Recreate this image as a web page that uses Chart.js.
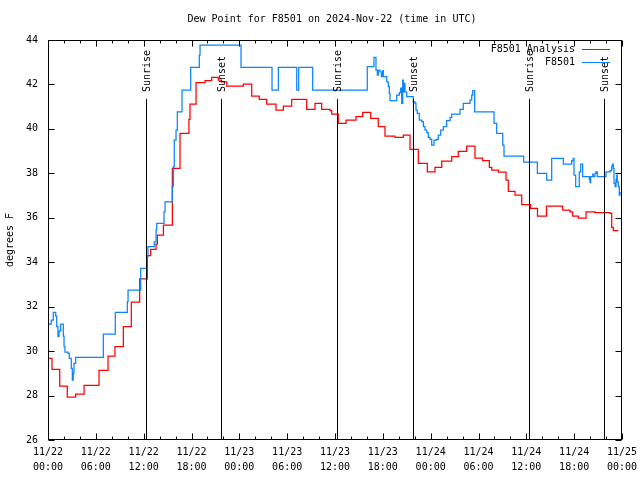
<!DOCTYPE html>
<html>
<head>
<meta charset="utf-8">
<title>Dew Point for F8501</title>
<script src="https://cdn.jsdelivr.net/npm/chart.js@4.4.1/dist/chart.umd.min.js"></script>
<style>
  html, body { margin: 0; padding: 0; background: #fff; }
</style>
</head>
<body>
<canvas id="dewpoint" width="640" height="480"></canvas>
<script>
const FONT = 'DejaVu Sans Mono'
const TITLE = 'Dew Point for F8501 on 2024-Nov-22 (time in UTC)'

// x = hours since 11/22 00:00 UTC
const tickLabels = [
  ['11/22', '00:00'], ['11/22', '06:00'], ['11/22', '12:00'], ['11/22', '18:00'],
  ['11/23', '00:00'], ['11/23', '06:00'], ['11/23', '12:00'], ['11/23', '18:00'],
  ['11/24', '00:00'], ['11/24', '06:00'], ['11/24', '12:00'], ['11/24', '18:00'],
  ['11/25', '00:00']
]

const analysisHours = [0, 0.50, 1.47, 2.42, 3.47, 4.52, 6.40, 7.53, 8.40, 9.45,
  10.45, 11.50, 12.46, 12.88, 13.55, 13.72, 14.48, 15.60, 16.56, 17.68,
  17.81, 18.57, 19.70, 20.53, 21.36, 21.78, 22.42, 24.50, 25.55, 26.50,
  27.43, 28.60, 29.52, 30.57, 32.45, 33.49, 34.33, 35.37, 35.59, 36.41,
  37.38, 38.63, 39.47, 40.48, 41.43, 42.27, 43.53, 44.57, 45.41, 46.45,
  47.58, 48.54, 49.39, 50.64, 51.47, 52.52, 53.56, 54.53, 55.36, 55.66,
  56.48, 57.45, 57.74, 58.58, 59.42, 60.52, 61.40, 62.53, 64.56, 65.48,
  65.82, 66.52, 67.49, 68.61, 70.50, 70.71, 70.91, 71.54]
const analysisValues = [29.67, 29.18, 28.42, 27.93, 28.07, 28.46, 29.13, 29.77, 30.2, 31.1,
  32.2, 33.25, 34.3, 34.58, 34.82, 35.22, 35.67, 38.22, 39.8, 40.43,
  41.12, 42.08, 42.17, 42.32, 42.2, 42.12, 41.93, 42.02, 41.48, 41.33,
  41.12, 40.85, 41.03, 41.33, 40.88, 41.15, 40.88, 40.82, 40.67, 40.25,
  40.4, 40.55, 40.74, 40.47, 40.1, 39.68, 39.62, 39.72, 39.08, 38.45,
  38.07, 38.27, 38.55, 38.75, 38.99, 39.23, 38.69, 38.57, 38.27, 38.15,
  38.06, 37.7, 37.19, 37.02, 36.59, 36.42, 36.08, 36.53, 36.35, 36.27,
  36.08, 35.98, 36.27, 36.23, 36.2, 35.57, 35.42, 35.42]

const obsHours = [0, 0.41, 0.66, 0.97, 1.09, 1.25, 1.38, 1.59, 1.92, 2.01,
  2.13, 2.51, 2.67, 2.92, 3.05, 3.17, 3.26, 3.47, 6.94, 8.44,
  9.95, 10.04, 11.63, 12.38, 12.54, 13.33, 13.55, 13.64, 14.55, 14.68,
  15.59, 15.72, 15.84, 16.06, 16.22, 16.81, 17.90, 18.98, 19.07, 24.21,
  28.10, 28.89, 31.20, 31.45, 33.20, 40.05, 40.89, 41.14, 41.31, 41.43,
  41.64, 41.81, 41.98, 42.06, 42.49, 42.69, 42.81, 42.90, 43.74, 44.07,
  44.24, 44.37, 44.49, 44.57, 44.66, 44.78, 44.99, 45.82, 46.04, 46.16,
  46.32, 46.57, 46.88, 47.08, 47.29, 47.50, 47.70, 47.92, 48.13, 48.42,
  48.76, 48.96, 49.26, 49.59, 50.01, 50.43, 50.64, 51.68, 52.09, 52.93,
  53.15, 53.27, 53.52, 55.95, 56.28, 57.04, 57.20, 59.67, 61.38, 62.56,
  63.18, 64.64, 65.69, 65.89, 65.98, 66.19, 66.64, 66.82, 67.07, 67.90,
  67.99, 68.07, 68.33, 68.40, 68.61, 68.74, 68.90, 69.99, 70.50, 70.71,
  70.84, 70.91, 71.00, 71.13, 71.25, 71.34, 71.41, 71.54, 71.66, 71.75,
  71.87]
const obsValues = [31.22, 31.4, 31.74, 31.58, 31.1, 30.65, 30.9, 31.22, 30.68, 30.2,
  29.96, 29.9, 29.67, 29.22, 28.7, 29.0, 29.45, 29.72, 30.76, 31.74,
  32.22, 32.75, 33.72, 34.25, 34.7, 34.92, 35.45, 35.75, 36.27, 36.72,
  37.4, 38.3, 39.5, 39.95, 40.77, 41.75, 42.77, 43.32, 43.77, 42.77,
  41.75, 42.77, 41.75, 42.77, 41.75, 42.8, 43.22, 42.65, 42.42, 42.65,
  42.57, 42.35, 42.62, 42.35, 42.12, 41.9, 41.6, 41.27, 41.52, 41.63,
  41.83, 41.15, 42.2, 41.67, 42.05, 41.67, 41.45, 41.22, 41.15, 40.85,
  40.7, 40.4, 40.33, 40.1, 39.95, 39.83, 39.62, 39.53, 39.27, 39.5,
  39.53, 39.72, 39.95, 40.1, 40.37, 40.52, 40.67, 40.88, 41.15, 41.3,
  41.52, 41.72, 40.77, 40.25, 39.8, 39.27, 38.78, 38.5, 38.0, 37.7,
  38.67, 38.42, 38.57, 38.67, 37.92, 37.4, 38.07, 38.42, 37.85, 37.73,
  37.58, 37.85, 37.97, 37.85, 38.0, 38.07, 37.85, 38.07, 38.12, 38.33,
  38.42, 38.22, 37.55, 37.4, 37.73, 37.92, 37.62, 37.4, 37.02, 37.13,
  37.13]

const sunHours = [12.29, 21.70, 36.25, 45.78, 60.34, 69.74]
const sunNames = ['Sunrise', 'Sunset', 'Sunrise', 'Sunset', 'Sunrise', 'Sunset']
const sunLineTop = 41.35   // degrees F where the marker lines start
const sunLabelBase = 41.66 // where the rotated labels start

const toPoints = (xs, ys) => xs.map((h, i) => ({ x: h, y: ys[i] }))

// gnuplot style: title, box border, inward ticks, sun markers, key top right
const gnuplotBits = {
  id: 'gnuplotBits',
  afterDatasetsDraw(chart) {
    const { ctx, chartArea: a, scales: { x, y } } = chart
    const px = v => Math.round(x.getPixelForValue(v)) + 0.5
    const py = v => Math.round(y.getPixelForValue(v)) + 0.5
    const L = Math.round(a.left) + 0.5, R = Math.round(a.right) - 0.5
    const T = Math.round(a.top) + 0.5, B = Math.round(a.bottom) - 0.5
    ctx.save()
    ctx.strokeStyle = '#000'
    ctx.fillStyle = '#000'
    ctx.lineWidth = 1
    ctx.font = '10px "' + FONT + '"'

    // title
    ctx.textAlign = 'center'
    ctx.textBaseline = 'middle'
    ctx.fillText(TITLE, (a.left + a.right) / 2 - 3, a.top / 2 - 1)

    // sunrise / sunset lines
    sunHours.forEach((h, i) => {
      const sx = px(h)
      ctx.beginPath()
      ctx.moveTo(sx, y.getPixelForValue(sunLineTop))
      ctx.lineTo(sx, B)
      ctx.stroke()
      ctx.save()
      ctx.translate(sx + 1, y.getPixelForValue(sunLabelBase))
      ctx.rotate(-Math.PI / 2)
      ctx.textAlign = 'left'
      ctx.textBaseline = 'middle'
      ctx.fillText(sunNames[i], 0, 0)
      ctx.restore()
    })

    // ticks
    ctx.beginPath()
    for (let h = x.min; h <= x.max; h += 2) {
      const len = h % 6 === 0 ? 6 : 3
      const tx = px(h)
      ctx.moveTo(tx, B); ctx.lineTo(tx, B - len)
      ctx.moveTo(tx, T); ctx.lineTo(tx, T + len)
    }
    y.ticks.forEach(t => {
      const ty = py(t.value)
      ctx.moveTo(L, ty); ctx.lineTo(L + 6, ty)
      ctx.moveTo(R, ty); ctx.lineTo(R - 6, ty)
    })
    ctx.stroke()

    // border
    ctx.strokeRect(L, T, R - L, B - T)

    // key
    chart.data.datasets.forEach((ds, i) => {
      const ky = Math.round(a.top + 9 + i * 13) + 0.5
      ctx.fillStyle = '#000'
      ctx.textAlign = 'right'
      ctx.textBaseline = 'middle'
      ctx.fillText(ds.label, a.right - 47, ky)
      ctx.strokeStyle = ds.borderColor
      ctx.beginPath()
      ctx.moveTo(a.right - 40, ky)
      ctx.lineTo(a.right - 12, ky)
      ctx.stroke()
    })
    ctx.restore()
  }
}

new Chart(document.getElementById('dewpoint'), {
  type: 'line',
  data: {
    datasets: [{
      label: 'F8501 Analysis',
      data: toPoints(analysisHours, analysisValues),
      borderColor: '#ff0000',
      borderWidth: 1.25,
      pointRadius: 0,
      stepped: true,
      order: 1
    }, {
      label: 'F8501',
      data: toPoints(obsHours, obsValues),
      borderColor: '#0a84ff',
      borderWidth: 1.25,
      pointRadius: 0,
      stepped: true,
      order: 0
    }]
  },
  options: {
    responsive: false,
    animation: false,
    devicePixelRatio: 1,
    layout: { padding: { top: 40, right: 18, bottom: 0, left: 0 } },
    plugins: {
      legend: { display: false },
      tooltip: { enabled: false },
      title: { display: false }
    },
    scales: {
      x: {
        type: 'linear',
        min: 0,
        max: 72,
        grid: { display: false, drawTicks: false },
        border: { display: false },
        ticks: {
          stepSize: 6,
          autoSkip: false,
          maxRotation: 0,
          padding: 5,
          color: '#000',
          font: { family: FONT, size: 10, lineHeight: 1.5 },
          callback: v => tickLabels[v / 6]
        },
        afterFit: s => {
          s.height = 40
          s.paddingLeft = 0
          s.paddingRight = 0
        }
      },
      y: {
        min: 26,
        max: 44,
        grid: { display: false, drawTicks: false },
        border: { display: false },
        ticks: {
          stepSize: 2,
          padding: 10,
          color: '#000',
          font: { family: FONT, size: 10 }
        },
        title: {
          display: true,
          text: 'degrees F',
          color: '#000',
          font: { family: FONT, size: 10 },
          padding: { top: 4, bottom: 0 }
        },
        afterFit: s => { s.width = 48 }
      }
    }
  },
  plugins: [gnuplotBits]
})
</script>
</body>
</html>
